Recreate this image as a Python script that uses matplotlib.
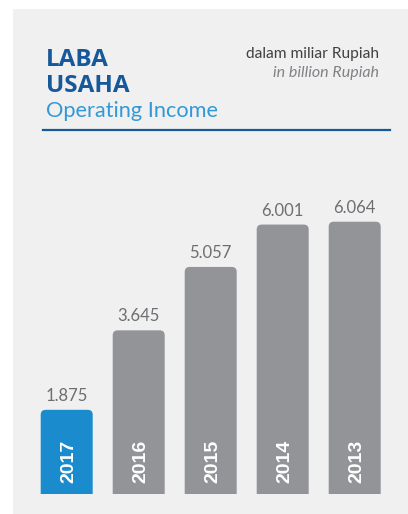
import matplotlib
matplotlib.use("Agg")
import matplotlib.pyplot as plt
from matplotlib.patches import Rectangle, PathPatch
from matplotlib.path import Path

years = ["2017", "2016", "2015", "2014", "2013"]
income = [1.875, 3.645, 5.057, 6.001, 6.064]
value_labels = ["1.875", "3.645", "5.057", "6.001", "6.064"]

W, H = 408, 514
BG = "#f0f0f0"
BLUE = "#1a8bcc"
GREY = "#939498"
DARK = "#17589a"


def fx(px):
    return px / W


def fy(py):
    return 1 - py / H


fig = plt.figure(figsize=(W / 100, H / 100), dpi=100, facecolor="white")

# grey panel behind everything
fig.patches.append(Rectangle((fx(13), 0), 1 - fx(13), fy(9), transform=fig.transFigure,
                             facecolor=BG, edgecolor="none", zorder=-5))

# bar axes: 72 px per category, ~44.9 px per unit
px_per_unit = 44.9
top_px = 150
ax = fig.add_axes([fx(30.7), fy(494), fx(390.7) - fx(30.7), fy(top_px) - fy(494)])
ax.set_xlim(-0.5, len(years) - 0.5)
ax.set_ylim(0, (494 - top_px) / px_per_unit)
ax.axis("off")
ax.patch.set_alpha(0)

bw = 52 / 72
rx = 5 / 72
ry = 5 / px_per_unit


def rounded_bar(x, h, color):
    x0, x1 = x - bw / 2, x + bw / 2
    verts = [(x0, 0), (x0, h - ry), (x0, h), (x0 + rx, h),
             (x1 - rx, h), (x1, h), (x1, h - ry), (x1, 0), (x0, 0)]
    codes = [Path.MOVETO, Path.LINETO, Path.CURVE3, Path.CURVE3,
             Path.LINETO, Path.CURVE3, Path.CURVE3, Path.LINETO, Path.CLOSEPOLY]
    ax.add_patch(PathPatch(Path(verts, codes), facecolor=color, edgecolor="none"))


for i, (yr, v, lab) in enumerate(zip(years, income, value_labels)):
    rounded_bar(i, v, BLUE if i == 0 else GREY)
    ax.annotate(lab, (i, v), xytext=(0, 9), textcoords="offset pixels",
                ha="center", va="baseline", fontsize=12, color="#6d6e71",
                family="Lato")
    ax.annotate(yr, (i, 0), xytext=(2, 11), textcoords="offset pixels",
                ha="center", va="bottom", rotation=90, fontsize=14,
                color="white", family="Liberation Sans", weight="bold")

# heading
fig.text(fx(46), fy(66), "LABA", fontsize=17.5, color=DARK, weight="bold",
         family="Open Sans", va="baseline")
fig.text(fx(46), fy(92), "USAHA", fontsize=17.5, color=DARK, weight="bold",
         family="Open Sans", va="baseline")
fig.text(fx(46), fy(117), "Operating Income", fontsize=15.7, color="#3399d6",
         family="Lato", va="baseline")
fig.add_artist(plt.Line2D([fx(43), fx(390)], [fy(130), fy(130)], color=DARK,
                          lw=1.6, transform=fig.transFigure))

fig.text(fx(379), fy(58), "dalam miliar Rupiah", fontsize=11.2, color="#414042",
         family="Lato", ha="right", va="baseline")
fig.text(fx(379), fy(77), "in billion Rupiah", fontsize=11.5, color="#808285",
         family="Lato", style="italic", ha="right", va="baseline")

fig.savefig("out.png", dpi=100, facecolor="white")
